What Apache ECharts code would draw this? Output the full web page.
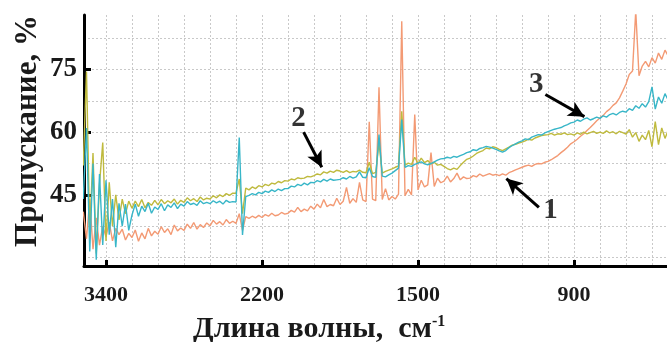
<!DOCTYPE html>
<html>
<head>
<meta charset="utf-8">
<script src="https://cdn.jsdelivr.net/npm/echarts@6/dist/echarts.min.js"></script>
<style>
html,body{margin:0;padding:0;background:#fff;}
#c{width:667px;height:342px;}
</style>
</head>
<body>
<div id="c"></div>
<script>
// Sample grid along the x axis (axis units: one unit = one vertical grid division)
const sampleStart = -0.875;
const sampleStep = 0.125;

// Tick labels (wavenumber, cm-1) and their axis positions
const xTickPos = [0, 6, 12, 18];
const xTickLabels = ['3400', '2200', '1500', '900'];
const yTickValues = [45, 60, 75];

// Series 1 (orange)
const series1 = [
  41.0, 34.5, 44.0, 32.0, 39.5, 33.0, 37.5,
  35.0, 38.5, 34.0, 37.0, 35.5, 36.8, 34.2, 35.8,
  34.8, 36.6, 33.9, 35.9, 34.5, 37.0, 35.2, 36.3,
  35.6, 37.4, 36.0, 36.9, 35.5, 37.8, 36.4, 37.1,
  36.5, 38.0, 37.0, 38.4, 36.8, 37.9, 37.2, 38.3,
  37.6, 38.9, 38.0, 38.6, 37.8, 39.1, 38.2, 38.7,
  38.2, 40.5, 36.5, 39.8, 39.4, 39.9, 39.5, 40.1,
  39.6, 40.3, 39.9, 40.6, 40.0, 40.2, 40.8, 40.4,
  40.6, 41.3, 40.9, 42.0, 41.0, 41.6, 41.2, 42.3,
  41.6, 42.8, 41.9, 43.9, 42.2, 42.7, 42.4, 44.2,
  42.7, 43.5, 46.8, 43.0, 44.1, 43.2, 48.0, 43.8,
  43.4, 62.5, 44.0, 43.6, 70.7, 43.9, 46.5, 43.8,
  44.6, 44.0, 45.2, 86.5, 44.8, 46.3, 45.0, 64.2,
  46.2, 48.5, 46.9, 47.4, 55.1, 47.0, 49.0, 47.9,
  48.3, 49.5, 48.1, 48.9, 50.2, 48.6, 49.3, 48.9,
  49.0, 49.6, 49.3, 50.0, 49.5, 49.8, 50.1, 49.7,
  49.9, 49.6, 50.0, 49.7, 50.3, 50.6, 51.0, 51.3,
  51.6, 51.9, 52.1, 51.8, 52.3, 52.5, 52.4, 52.8,
  53.0, 53.4, 53.9, 54.4, 55.1, 55.7, 56.4, 57.2,
  57.7, 58.3, 59.0, 59.6, 60.4, 61.1, 61.9, 62.7,
  63.4, 64.0, 64.9, 65.5, 66.4, 67.0, 68.2, 69.8,
  71.5, 73.8, 74.6, 89.0, 73.5, 75.8, 76.9, 75.6,
  77.8, 76.5, 78.9, 77.4, 79.6, 78.2, 80.1, 79.0
];

// Series 2 (olive / yellow)
const series2 = [
  52.0, 74.5, 36.0, 55.0, 31.0, 47.5, 57.5,
  34.0, 48.0, 37.5, 45.0, 39.0, 44.0, 40.5, 43.5,
  41.8, 43.5, 42.2, 43.9, 41.9, 43.2, 42.5, 43.7,
  42.6, 43.9, 42.9, 43.6, 43.1, 44.0, 42.8, 43.7,
  43.2, 44.3, 43.6, 44.1, 43.4, 44.5, 43.8, 44.2,
  44.0, 44.8, 44.3, 45.0, 44.6, 45.3, 44.9, 45.4,
  45.4, 48.8, 40.5, 46.6, 46.2, 46.9, 46.5, 47.2,
  46.9, 47.5, 47.2, 47.8, 47.6, 48.2, 47.9, 48.4,
  48.3, 48.8, 48.6, 49.1, 48.9, 49.0, 49.4, 49.3,
  49.6, 50.0, 49.8, 50.5, 50.2, 50.7, 50.4, 50.9,
  50.7, 50.4, 50.8, 50.3, 50.6, 50.5, 50.9, 50.4,
  50.3, 52.8, 50.1, 50.4, 57.5, 50.2, 50.6, 50.9,
  51.2, 51.6, 51.9, 65.0, 52.1, 52.6, 52.3, 54.0,
  52.5, 53.8, 52.7, 53.2, 52.4, 52.8, 52.1, 52.3,
  51.8, 51.3, 51.0, 51.4, 51.1, 52.0, 52.8, 53.5,
  53.8, 54.3, 54.9, 55.3, 55.6, 56.2, 56.0, 56.5,
  56.3, 55.9, 55.6, 56.0, 56.4, 56.9, 57.1, 57.4,
  57.6, 57.9, 58.3, 58.1, 58.6, 58.9, 59.2, 59.3,
  59.4, 59.7, 59.3, 59.6, 59.5, 59.8, 59.4, 59.6,
  59.3, 59.8, 59.5, 60.0, 59.6, 59.9, 60.2, 59.7,
  60.0, 59.7, 60.3, 59.8, 60.1, 59.6, 60.2, 59.9,
  59.5, 60.6, 58.8, 59.9, 57.8, 59.3, 58.2, 60.4,
  56.5, 62.5, 57.0, 61.0, 58.5, 60.5, 59.2, 60.0
];

// Series 3 (cyan)
const series3 = [
  44.0, 61.0, 31.5, 52.5, 29.5, 50.0, 33.0,
  48.5, 35.5, 44.0, 32.5, 43.0, 37.5, 42.8, 36.5,
  40.2, 42.8, 39.9, 42.3, 41.0, 43.0, 40.6, 42.1,
  41.5, 42.9, 41.2, 42.6, 42.0, 43.1, 41.7, 42.8,
  42.3, 43.4, 42.7, 43.0, 42.5, 43.6, 42.9, 43.2,
  42.9, 43.6, 43.1, 43.5, 42.8, 43.7, 43.2, 43.4,
  43.3, 58.7, 35.4, 44.6, 44.9, 45.3, 45.0, 45.6,
  45.3, 45.9, 45.6, 46.2, 45.8, 46.4, 46.0, 46.5,
  46.5, 47.1, 46.9, 47.5, 47.2, 47.8, 47.4, 48.0,
  47.9, 48.4, 48.1, 48.7, 48.3, 48.8, 48.5, 48.6,
  48.7, 49.1, 48.8, 49.4, 49.0, 49.3, 50.5, 49.2,
  49.1, 51.5, 49.4, 49.2, 59.4, 49.5, 49.3, 49.8,
  50.2, 50.8, 51.4, 63.0, 51.6, 52.0, 51.8, 52.3,
  52.6, 52.9, 52.4, 52.2, 52.5, 52.9, 53.3, 53.6,
  53.7, 54.0, 53.8, 54.2, 54.0, 54.4, 54.7, 55.1,
  55.3, 55.8, 55.6, 56.1, 56.3, 56.6, 56.4, 56.2,
  55.9, 55.5, 55.2, 55.6, 56.3, 56.8, 57.2, 57.6,
  57.9, 58.4, 58.2, 58.8, 59.1, 59.4, 59.3, 59.8,
  60.1, 60.4, 60.7, 60.9, 61.1, 61.5, 61.8, 62.2,
  62.4, 62.9, 62.6, 63.1, 63.4, 62.9, 63.2, 63.6,
  63.3, 63.9, 63.6, 64.2, 64.5, 64.1, 64.7, 65.0,
  64.8, 65.6, 65.2, 66.3, 65.7, 66.8, 66.0, 67.3,
  70.8, 65.5, 68.4, 66.9, 69.2, 67.6, 69.8, 68.5
];

// Curve annotations: label position and arrow (from -> to), in axis units
const annLabels = ['1', '2', '3'];
const annLabelPos = [[17.1, 41.2], [7.4, 63.3], [16.55, 71.4]];
const annArrowFrom = [[16.65, 42.0], [7.6, 60.0], [16.9, 69.0]];
const annArrowTo = [[15.4, 48.9], [8.3, 51.6], [18.4, 63.7]];

const XMIN = -0.846, XMAX = 21.577, YMIN = 28, YMAX = 88;
const serif = '"Liberation Serif", "Times New Roman", serif';

const xs = series1.map((_, i) => sampleStart + i * sampleStep);
const toPts = arr => arr.map((v, i) => [xs[i], v]);

const gridX = [];
for (let g = 0; g <= 21; g++) gridX.push(g);
const gridY = [30, 37.5, 45, 52.5, 60, 67.5, 75, 82.5];
const minorX = [];
for (let g = -6; g <= 172; g++) minorX.push(g / 8);

const chart = echarts.init(document.getElementById('c'), null, {renderer: 'canvas'});
const gridLine = {show: true, lineStyle: {color: '#c9c9c9', width: 1, type: [2, 2]}};

chart.setOption({
  animation: false,
  backgroundColor: '#fff',
  grid: {left: 84, top: 15, right: 0, bottom: 76, containLabel: false},
  xAxis: [
    {type: 'value', min: XMIN, max: XMAX, position: 'bottom',
      axisLine: {show: true, onZero: false, lineStyle: {color: '#000', width: 3}},
      axisTick: {show: true, inside: true, length: 6, customValues: xTickPos, lineStyle: {color: '#000', width: 3}},
      axisLabel: {customValues: xTickPos, margin: 18, color: '#1a1a1a', fontFamily: serif, fontWeight: 'bold', fontSize: 22,
        formatter: v => { const i = xTickPos.indexOf(Math.round(v)); return i >= 0 ? xTickLabels[i] : ''; }},
      splitLine: {show: false}},
    {type: 'value', min: XMIN, max: XMAX, position: 'bottom',
      axisLine: {show: false}, axisTick: {show: false, customValues: gridX}, axisLabel: {show: false},
      splitLine: gridLine},
    {type: 'value', min: XMIN, max: XMAX, position: 'bottom',
      axisLine: {show: false}, axisTick: {show: true, length: 2, customValues: minorX, lineStyle: {color: '#000', width: 1}},
      axisLabel: {show: false}, splitLine: {show: false}}
  ],
  yAxis: [
    {type: 'value', min: YMIN, max: YMAX, position: 'left',
      axisLine: {show: true, onZero: false, lineStyle: {color: '#000', width: 3}},
      axisTick: {show: true, inside: true, length: 7, customValues: yTickValues, lineStyle: {color: '#000', width: 3}},
      axisLabel: {customValues: yTickValues, margin: 7, color: '#1a1a1a', fontFamily: serif, fontWeight: 'bold', fontSize: 27},
      splitLine: {show: false}},
    {type: 'value', min: YMIN, max: YMAX, position: 'left',
      axisLine: {show: false}, axisTick: {show: false, customValues: gridY}, axisLabel: {show: false},
      splitLine: gridLine}
  ],
  title: {
    text: 'Длина волны,  см{sup|-1}',
    left: 188, top: 309,
    textStyle: {fontFamily: serif, fontWeight: 'bold', fontSize: 30, color: '#1a1a1a',
      rich: {sup: {fontFamily: serif, fontWeight: 'bold', fontSize: 16, color: '#1a1a1a', padding: [0, 0, 14, 0]}}}
  },
  graphic: [{
    type: 'text', x: 28, y: 131, rotation: Math.PI / 2,
    style: {text: 'Пропускание, %', fontFamily: serif, fontWeight: 'bold', fontSize: 31, fill: '#1a1a1a',
      textAlign: 'center', textVerticalAlign: 'middle'}
  }],
  series: [
    {type: 'line', name: '1', data: toPts(series1), showSymbol: false, symbol: 'none', sampling: null,
      lineStyle: {color: '#f39a74', width: 1.4}, itemStyle: {color: '#f39a74'}, z: 2},
    {type: 'line', name: '2', data: toPts(series2), showSymbol: false, symbol: 'none',
      lineStyle: {color: '#bfba3e', width: 1.4}, itemStyle: {color: '#bfba3e'}, z: 3},
    {type: 'line', name: '3', data: toPts(series3), showSymbol: false, symbol: 'none',
      lineStyle: {color: '#38b6c8', width: 1.4}, itemStyle: {color: '#38b6c8'}, z: 4,
      markLine: {
        silent: true, animation: false,
        symbol: ['none', 'arrow'], symbolSize: [12, 16],
        lineStyle: {color: '#000', width: 3, type: 'solid'},
        label: {show: false},
        data: annArrowFrom.map((f, i) => [{coord: f}, {coord: annArrowTo[i]}])
      }},
    {type: 'scatter', name: 'labels', data: annLabelPos.map((p, i) => ({value: p, name: annLabels[i]})),
      symbolSize: 1, itemStyle: {color: 'rgba(0,0,0,0)'}, z: 10, silent: true,
      label: {show: true, position: 'inside', formatter: p => p.name, fontFamily: serif, fontWeight: 'bold', fontSize: 29, color: '#000'}}
  ]
});
</script>
</body>
</html>
